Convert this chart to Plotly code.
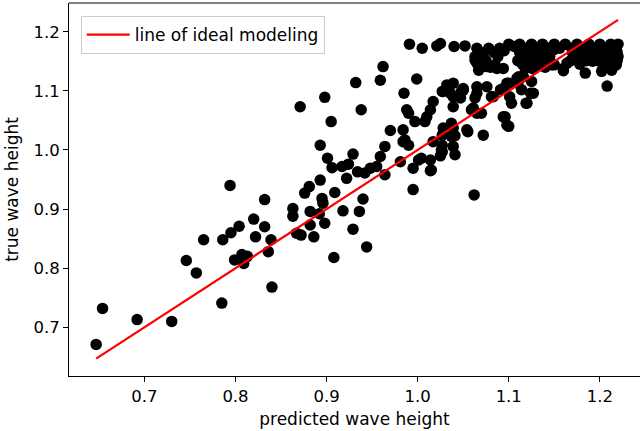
import plotly.graph_objects as go

# predicted (x) and true (y) wave heights
pred_low = [0.647, 0.654, 0.692, 0.730, 0.785, 0.746, 0.757, 0.765, 0.786, 0.794, 0.795, 0.804,
            0.799, 0.807, 0.809, 0.813, 0.820, 0.822, 0.832, 0.832, 0.839, 0.836, 0.840]
true_low = [0.671, 0.732, 0.713, 0.710, 0.741, 0.813, 0.792, 0.848, 0.848, 0.940, 0.860, 0.871,
            0.814, 0.823, 0.808, 0.820, 0.883, 0.853, 0.916, 0.870, 0.848, 0.828, 0.768]

pred_mid = [0.863, 0.863, 0.867, 0.872, 0.876, 0.881, 0.882, 0.882, 0.886, 0.892, 0.893, 0.895,
            0.896, 0.898, 0.909, 0.918, 0.922, 0.929, 0.936, 0.940, 0.944, 0.908]
true_mid = [0.901, 0.888, 0.859, 0.856, 0.927, 0.938, 0.896, 0.873, 0.853, 0.892, 0.949, 0.918,
            0.910, 0.876, 0.928, 0.897, 0.952, 0.866, 0.896, 0.917, 0.836, 0.818]

pred_upmid = [0.893, 0.901, 0.906, 0.917, 0.924, 0.929, 0.934, 0.942, 0.948, 0.955, 0.959, 0.964,
              0.964, 0.981, 0.984, 0.990, 0.995, 1.001, 1.004, 1.014, 1.015, 1.017, 1.027, 1.027,
              1.039, 1.041, 0.995, 0.970, 0.984, 0.986, 1.062, 1.025, 1.026, 1.014]
true_upmid = [1.008, 0.986, 0.970, 0.972, 0.976, 0.993, 0.963, 0.961, 0.969, 0.972, 0.989, 1.006,
              0.958, 0.980, 1.014, 1.008, 0.969, 0.983, 0.986, 0.983, 0.966, 1.014, 1.008, 0.997,
              1.006, 0.992, 0.933, 1.033, 1.034, 1.017, 0.924, 0.990, 1.000, 0.965]

pred_high = [0.871, 0.898, 0.905, 0.932, 0.938, 0.959, 0.962, 0.985, 0.988, 0.990, 0.999, 0.997,
             1.008, 1.010, 1.014, 1.017, 1.027, 1.032, 1.036, 1.039, 1.048, 1.047, 1.028, 1.037,
             1.039, 1.054, 1.027, 1.037, 1.055, 1.041, 1.065, 1.076, 1.065, 1.059, 1.065, 1.072,
             1.094, 1.098, 1.081, 1.091, 1.098, 1.101, 1.103, 1.111, 1.114, 1.120, 1.125, 1.127,
             1.039, 1.050, 1.039, 1.063, 1.061, 1.070, 1.083, 1.094, 1.100, 1.116, 1.096, 1.100,
             1.119, 1.124, 1.110, 1.050, 1.028]
true_high = [1.073, 1.089, 1.048, 1.114, 1.068, 1.118, 1.141, 1.096, 1.068, 1.062, 1.120, 1.048,
             1.048, 1.056, 1.068, 1.082, 1.099, 1.110, 1.096, 1.073, 1.099, 1.088, 1.037, 1.045,
             1.037, 1.034, 1.025, 1.023, 1.031, 1.024, 1.107, 1.107, 1.096, 1.068, 1.062, 1.025,
             1.056, 1.042, 1.090, 1.102, 1.113, 1.090, 1.079, 1.124, 1.102, 1.079, 1.116, 1.096,
             1.113, 1.104, 1.090, 1.088, 1.071, 1.062, 1.090, 1.104, 1.113, 1.124, 1.056, 1.040,
             1.079, 1.096, 1.113, 1.101, 1.099]

pred_top = [0.991, 1.005, 1.021, 1.025, 1.040, 1.052, 1.065, 1.076, 1.087, 1.147, 1.160, 1.184,
            1.202, 1.213, 1.208, 1.160, 1.118, 1.109, 1.063, 1.067, 1.094]
true_top = [1.179, 1.172, 1.176, 1.180, 1.175, 1.176, 1.147, 1.141, 1.138, 1.144, 1.138, 1.130,
            1.133, 1.135, 1.108, 1.134, 1.138, 1.121, 1.152, 1.135, 1.138]

pred_blob = [1.100, 1.112, 1.125, 1.137, 1.150, 1.162, 1.175, 1.188, 1.200, 1.212, 1.220,
             1.065, 1.078, 1.090, 1.118, 1.131, 1.144, 1.156, 1.169, 1.181, 1.194, 1.206, 1.218,
             1.070, 1.084, 1.112, 1.125, 1.138, 1.170, 1.182, 1.195, 1.207, 1.219,
             1.063, 1.088, 1.118, 1.132, 1.145, 1.175, 1.188, 1.200, 1.212, 1.220,
             1.075, 1.110, 1.125, 1.140, 1.168, 1.185, 1.198, 1.210, 1.219,
             1.085, 1.132, 1.150, 1.205, 1.218,
             1.095, 1.106, 1.150, 1.190, 1.203, 1.215, 1.176, 1.130, 1.115, 1.192,
             1.178, 1.164, 1.072, 1.080, 1.126, 1.140, 1.200, 1.212, 1.183, 1.120]
true_blob = [1.179, 1.179, 1.179, 1.179, 1.179, 1.179, 1.179, 1.179, 1.179, 1.179, 1.179,
             1.172, 1.172, 1.172, 1.172, 1.172, 1.172, 1.172, 1.172, 1.172, 1.172, 1.172, 1.172,
             1.165, 1.165, 1.165, 1.165, 1.165, 1.165, 1.165, 1.165, 1.165, 1.165,
             1.158, 1.158, 1.158, 1.158, 1.158, 1.158, 1.158, 1.158, 1.158, 1.158,
             1.151, 1.151, 1.151, 1.151, 1.151, 1.151, 1.151, 1.151, 1.151,
             1.144, 1.144, 1.144, 1.144, 1.144,
             1.168, 1.175, 1.170, 1.160, 1.168, 1.165, 1.170, 1.150, 1.145, 1.150,
             1.145, 1.147, 1.160, 1.140, 1.138, 1.140, 1.150, 1.155, 1.162, 1.160]

predicted = pred_low + pred_mid + pred_upmid + pred_high + pred_top + pred_blob
true_vals = true_low + true_mid + true_upmid + true_high + true_top + true_blob

ideal_x = [min(predicted), max(predicted)]
ideal_y = ideal_x

tick_vals = [0.7, 0.8, 0.9, 1.0, 1.1, 1.2]
tick_text = ["0.7", "0.8", "0.9", "1.0", "1.1", "1.2"]

fig = go.Figure()
fig.add_trace(go.Scatter(x=predicted, y=true_vals, mode="markers",
                         marker=dict(color="black", size=11.5, line=dict(width=0)),
                         showlegend=False))
fig.add_trace(go.Scatter(x=ideal_x, y=ideal_y, mode="lines",
                         line=dict(color="red", width=2.2),
                         name="line of ideal modeling"))

axis_common = dict(showline=True, linecolor="black", linewidth=1, ticks="outside",
                   ticklen=5, tickwidth=1, tickcolor="black", showgrid=False,
                   zeroline=False, tickvals=tick_vals, ticktext=tick_text,
                   tickfont=dict(size=16.5), automargin=False)

fig.update_layout(
    width=640, height=431,
    margin=dict(l=69, r=0, t=3, b=55),
    paper_bgcolor="white", plot_bgcolor="white",
    font=dict(family="DejaVu Sans", size=14.5, color="black"),
    xaxis=dict(range=[0.6172, 1.2441], title=dict(text="predicted wave height", standoff=8),
               **axis_common),
    yaxis=dict(range=[0.6176, 1.2486], title=dict(text="true wave height", standoff=10),
               **axis_common),
    legend=dict(x=0.0205, y=0.965, xanchor="left", yanchor="top",
                bgcolor="rgba(255,255,255,0.8)", bordercolor="#cccccc", borderwidth=1,
                itemwidth=43, font=dict(size=17)),
    shapes=[dict(type="line", xref="paper", yref="paper", x0=0, x1=1, y0=1, y1=1,
                 line=dict(color="black", width=1))],
)

fig.write_html("out.html", config={"displayModeBar": False},
               post_script="document.body.style.margin='0';document.body.style.overflow='hidden';")
